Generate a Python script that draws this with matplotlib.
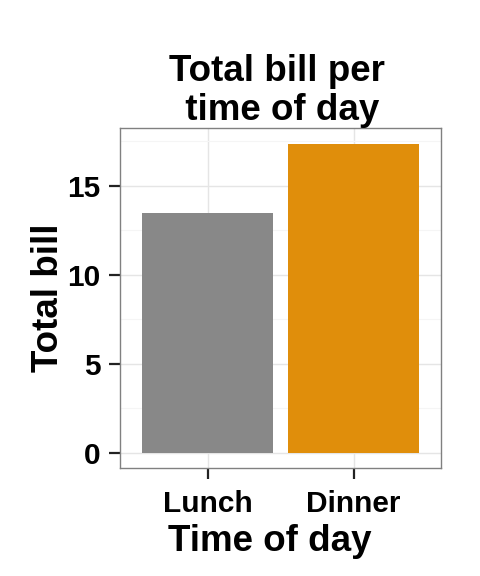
import matplotlib
matplotlib.use("Agg")
import matplotlib.pyplot as plt
from matplotlib.ticker import MultipleLocator

plt.rcParams['font.family'] = ['Liberation Sans', 'DejaVu Sans']

times = ["Lunch", "Dinner"]
total_bill = [13.48, 17.37]
colors = ["#888888", "#E08E0B"]

fig = plt.figure(figsize=(4.8, 5.76), dpi=100)
ax = fig.add_axes([0.25, 0.1875, 0.669, 0.59])

x = range(1, len(times) + 1)
ax.bar(x, total_bill, width=0.9, color=colors, zorder=3)

ax.set_xlim(0.4, 2.6)
ymax = max(total_bill)
ax.set_ylim(-0.05 * ymax, 1.05 * ymax)
ax.yaxis.set_major_locator(MultipleLocator(5))
ax.yaxis.set_minor_locator(MultipleLocator(2.5))
ax.set_xticks(list(x))
ax.set_xticklabels(times)

ax.grid(True, which='major', color='#e5e5e5', lw=1.0, zorder=0)
ax.grid(True, which='minor', axis='y', color='#f5f5f5', lw=0.8, zorder=0)
ax.tick_params(which='minor', length=0)
ax.tick_params(which='major', length=8, width=1.6, color='#222222',
               labelsize=21.5)
ax.tick_params(axis='y', pad=6)
ax.tick_params(axis='x', pad=8)
for lab in ax.get_xticklabels() + ax.get_yticklabels():
    lab.set_fontweight('bold')
    lab.set_color('black')
for s in ax.spines.values():
    s.set_color('#808080')
    s.set_linewidth(1.0)

ax.set_title("Total bill per\n time of day", fontsize=26.5, fontweight='bold',
             pad=6, linespacing=1.16, x=0.49)
ax.set_xlabel("Time of day", fontsize=26.5, fontweight='bold')
ax.xaxis.set_label_coords(0.466, -0.165)
ax.set_ylabel("Total bill", fontsize=26.5, fontweight='bold', labelpad=1)

fig.savefig("out.png", dpi=100)
